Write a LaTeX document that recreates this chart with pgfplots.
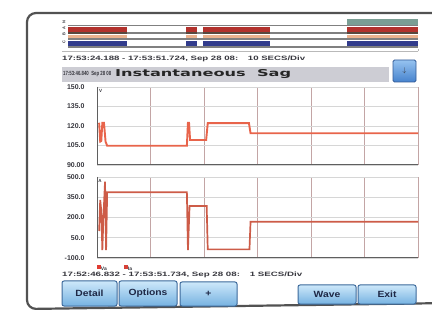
\documentclass[border=0pt]{standalone}
\usepackage{pgfplots}
\pgfplotsset{compat=1.18}
\usepackage{fontspec}
\setmainfont{Liberation Sans}
\newfontfamily\dejafont{DejaVu Sans}
\definecolor{vacol}{RGB}{232,100,75}
\definecolor{iacol}{RGB}{205,92,72}
\definecolor{gridv}{RGB}{195,165,165}
\definecolor{gridh}{RGB}{214,214,214}
\definecolor{axcol}{RGB}{95,95,95}
\definecolor{lab}{RGB}{55,55,62}
\definecolor{barg}{RGB}{205,205,212}
\definecolor{btnTop}{RGB}{205,232,250}
\definecolor{btnBot}{RGB}{118,178,225}
\definecolor{btnEdge}{RGB}{60,105,155}
\definecolor{btnTxt}{RGB}{30,40,70}
\definecolor{sRed}{RGB}{178,50,45}
\definecolor{sDark}{RGB}{88,72,62}
\definecolor{sPeach}{RGB}{235,178,142}
\definecolor{sNavy}{RGB}{50,60,140}
\definecolor{sTeal}{RGB}{122,158,148}
\definecolor{sGray}{RGB}{128,128,128}
\definecolor{bbTop}{RGB}{150,195,240}
\definecolor{bbBot}{RGB}{70,130,205}
\definecolor{bbEdge}{RGB}{50,90,150}
\definecolor{legA}{RGB}{225,60,50}
\definecolor{legB}{RGB}{215,65,55}
\pgfplotsset{
  scopeaxis/.style={
    anchor=south west, scale only axis, width=321bp,
    xmin=0, xmax=6, xtick={0,...,6}, xticklabels={},
    major tick length=0pt,
    xmajorgrids, ymajorgrids,
    x grid style={gridv, line width=0.8bp},
    y grid style={gridh, line width=0.8bp},
    axis line style={draw=none},
    yticklabel style={font=\fontsize{7}{7}\selectfont\bfseries, text=lab, xshift=-9bp},
  }
}
\newcommand\btn[5]{%
  \shade[top color=btnTop, bottom color=btnBot, draw=btnEdge, line width=1bp, rounded corners=2bp] (#1,#2) rectangle (#3,#4);
  \node[text=btnTxt, font=\fontsize{9}{9}\selectfont\bfseries] at ({(#1+#3)/2},{(#2+#4)/2}) {\scalebox{1.15}[1]{#5}};}
\begin{document}
\begin{tikzpicture}[x=1bp,y=1bp]
\useasboundingbox (0,0) rectangle (432,314);
\fill[white] (0,0) rectangle (432,314);
\begin{scope}
\clip (0,0) rectangle (432,314);
\draw[line width=2.2bp, color=black!68, rounded corners=9bp] (450,301) -- (27,301) -- (27,5) -- (450,11);
\end{scope}

% ---------- status bars ----------
\begin{axis}[at={(68bp,264bp)}, anchor=south west, scale only axis, width=350bp, height=35bp,
  xmin=68, xmax=418, ymin=15, ymax=50, y dir=reverse, hide axis, unbounded coords=jump, clip=false]
\addplot[sTeal, line width=6bp] coordinates {(347,22)(418,22)};
\addplot[sGray, line width=1.5bp] coordinates {(68,25.6)(418,25.6)};
\addplot[sRed, line width=4.8bp] coordinates {(68,29.2)(127,29.2)(127,nan)(186,29.2)(197,29.2)(197,nan)(203,29.2)(270,29.2)(270,nan)(347,29.2)(418,29.2)};
\addplot[sGray, line width=1.8bp] coordinates {(68,32.9)(418,32.9)};
\addplot[sDark, line width=2.6bp] coordinates {(68,33.1)(127,33.1)(127,nan)(186,33.1)(197,33.1)(197,nan)(203,33.1)(270,33.1)(270,nan)(347,33.1)(418,33.1)};
\addplot[sPeach, line width=3.8bp] coordinates {(68,36.6)(127,36.6)(127,nan)(186,36.6)(197,36.6)(197,nan)(203,36.6)(270,36.6)(270,nan)(347,36.6)(418,36.6)};
\addplot[sGray, line width=1.8bp] coordinates {(68,39.4)(418,39.4)};
\addplot[sNavy, line width=4.8bp] coordinates {(68,43.2)(127,43.2)(127,nan)(186,43.2)(197,43.2)(197,nan)(203,43.2)(270,43.2)(270,nan)(347,43.2)(418,43.2)};
\addplot[sGray, line width=1.6bp] coordinates {(68,47.2)(418,47.2)};
\end{axis}
\foreach \yy/\ll in {292/N,286/A,280/B,272/C}{\node[rotate=90, font=\fontsize{4}{4}\selectfont\bfseries, text=lab, inner sep=0pt] at (64,\yy) {\ll};}
\draw[gray!55, line width=0.8bp] (62,262.5) -- (418,262.5);
\draw[gray!55, line width=0.8bp] (418,262.5) -- (418,265);

% ---------- header texts ----------
\node[anchor=west, inner sep=0pt, text=lab] at (62,255.5) {\resizebox{243bp}{\height}{\fontsize{6.3}{6.3}\selectfont\bfseries 17:53:24.188 - 17:53:51.724, Sep 28 08:\quad 10 SECS/Div}};
\fill[barg] (62,232) rectangle (389,247);
\node[anchor=west, inner sep=0pt, text=lab] at (63,239.5) {\resizebox{48bp}{\height}{\fontsize{6}{6}\selectfont\bfseries 17:53:46.840\ \ Sep 28 08}};
\node[anchor=west, inner sep=0pt, text=black!85] at (115,239.5) {\resizebox{176bp}{\height}{\fontsize{9.5}{9.5}\selectfont\dejafont\bfseries Instantaneous\ \ Sag}};
\shade[top color=bbTop, bottom color=bbBot, draw=bbEdge, line width=0.8bp, rounded corners=1.5bp] (393,232) rectangle (416,254);
\node[font=\fontsize{7}{7}\selectfont\bfseries, text=black!80] at (404.5,243) {$\downarrow$};

% ---------- upper plot (Va) ----------
\begin{axis}[scopeaxis, at={(97bp,149bp)}, height=78bp, ymin=90, ymax=150,
  ytick={90,105,120,135,150}, yticklabels={90.00,105.0,120.0,135.0,150.0}]
\addplot[vacol, line width=1.9bp] coordinates {
 (0.04,122.5) (0.06,108) (0.08,108.5) (0.10,122.5) (0.13,122.5) (0.16,108) (0.19,104.8)
 (1.68,104.8) (1.70,122.5) (1.72,122.5) (1.74,109.2) (2.04,109.2) (2.07,122.2)
 (2.84,122.2) (2.87,114.4) (6,114.4)};
\draw[axcol, line width=1.6bp] (rel axis cs:0,1) -- (rel axis cs:0,0) -- (rel axis cs:1,0);
\node[anchor=north west, inner sep=0pt, font=\fontsize{4.5}{4.5}\selectfont\bfseries, text=lab] at (rel axis cs:0.006,0.975) {V};
\end{axis}

% ---------- lower plot (Ia) ----------
\begin{axis}[scopeaxis, at={(97bp,56bp)}, height=81bp, ymin=-100, ymax=500,
  ytick={-100,50,200,350,500}, yticklabels={-100.0,50.0,200.0,350.0,500.0}]
\addplot[iacol, line width=1.7bp] coordinates {
 (0.04,100) (0.06,330) (0.08,250) (0.10,-41) (0.12,200) (0.15,465) (0.17,-41) (0.19,387)
 (1.68,387) (1.70,-41) (1.73,285) (2.05,285) (2.07,-36)
 (2.85,-36) (2.87,169) (6,169)};
\draw[axcol, line width=1.6bp] (rel axis cs:0,1) -- (rel axis cs:0,0) -- (rel axis cs:1,0);
\node[anchor=north west, inner sep=0pt, font=\fontsize{4.5}{4.5}\selectfont\bfseries, text=lab] at (rel axis cs:0.004,0.97) {A};
\end{axis}

% ---------- legend and footer ----------
\fill[legA] (97,45) rectangle (100.5,48.5);
\node[anchor=west, inner sep=0pt, font=\fontsize{5}{5}\selectfont\bfseries, text=lab] at (100.8,45) {Va};
\fill[legB] (124,45) rectangle (127.5,48.5);
\node[anchor=west, inner sep=0pt, font=\fontsize{5}{5}\selectfont\bfseries, text=lab] at (127.8,45) {Ia};
\node[anchor=west, inner sep=0pt, text=lab] at (62,39) {\resizebox{240bp}{\height}{\fontsize{6.3}{6.3}\selectfont\bfseries 17:52:46.832 - 17:53:51.734, Sep 28 08:\quad 1 SECS/Div}};

\btn{62}{8}{117}{33}{Detail}
\btn{119}{8}{177}{33}{Options}
\btn{180}{8}{237}{32}{+}
\btn{298}{10}{356}{29}{Wave}
\btn{358}{10}{416}{29}{Exit}
\end{tikzpicture}
\end{document}
